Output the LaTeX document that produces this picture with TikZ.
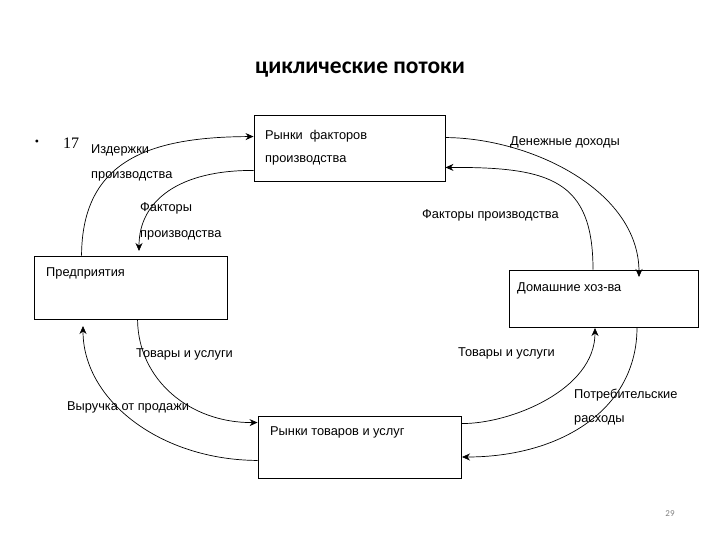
\documentclass[tikz,border=0pt]{standalone}
\usepackage{fontspec}
\setmainfont{Liberation Sans}
\newfontfamily\titlefont{Carlito}
\newfontfamily\seriffont{Liberation Serif}
\usetikzlibrary{arrows.meta}
\begin{document}
\begin{tikzpicture}[x=1pt,y=-1pt,
  box/.style={draw,line width=0.9pt,inner sep=0pt},
  txt/.style={anchor=west,inner sep=0pt,font=\fontsize{12.8}{14}\selectfont},
  flow/.style={line width=0.7pt,-{Stealth[length=8pt,width=7pt]}}]
\useasboundingbox (0,0) rectangle (720,540);
% title
\node[inner sep=0pt,font=\titlefont\bfseries\fontsize{23.5}{26}\selectfont] (title) at (360,70) {циклические потоки};
\node[inner sep=0pt,font=\seriffont\fontsize{12}{14}\selectfont] (bul) at (37,143) {•};
\node[anchor=west,inner sep=0pt,font=\seriffont\fontsize{16}{18}\selectfont] (num) at (63,143) {17};
% boxes
\node[box,minimum width=191pt,minimum height=66pt] (rf) at (349.5,148) {};
\node[box,minimum width=193pt,minimum height=63pt] (pred) at (130.5,287.5) {};
\node[box,minimum width=189pt,minimum height=57pt] (dom) at (603.5,298.5) {};
\node[box,minimum width=203pt,minimum height=62pt] (rt) at (359.5,447) {};
% box texts
\node[txt] (rf1) at (265,136) {Рынки\ \ факторов};
\node[txt] (rf2) at (265,160) {производства};
\node[txt] (predt) at (46,273) {Предприятия};
\node[txt] (domt) at (517,288) {Домашние хоз-ва};
\node[txt] (rtt) at (270,432) {Рынки товаров и услуг};
% coordinates on boxes
\coordinate (a1s) at ([xshift=48pt]pred.north west);
\coordinate (a1e) at ([yshift=-22pt]rf.north west);
\coordinate (a2s) at ([yshift=11pt]rf.south west);
\coordinate (a2e) at (139,251);
\coordinate (a3s) at ([yshift=-23pt]rf.north east);
\coordinate (a3e) at (639,277);
\coordinate (a4s) at ([xshift=-10.5pt]dom.north);
\coordinate (a4e) at ([yshift=14pt]rf.south east);
\coordinate (a5s) at ([xshift=104pt]pred.south west);
\coordinate (a5e) at ([yshift=-7pt]rt.north west);
\coordinate (a6s) at ([yshift=18pt]rt.south west);
\coordinate (a6e) at (83,326);
\coordinate (a7s) at ([yshift=-8pt]rt.north east);
\coordinate (a7e) at (595,328);
\coordinate (a8s) at ([xshift=33.5pt]dom.south);
\coordinate (a8e) at (462,457);
% flows
\draw[flow] (a1s) .. controls (82,160) and (150,137) .. (a1e);
\draw[flow] (a2s) .. controls (180,170) and (139,200) .. (a2e);
\draw[flow] (a3s) .. controls (530,138) and (639,190) .. (a3e);
\draw[flow] (a4s) .. controls (593,180) and (550,167) .. (a4e);
\draw[flow] (a5s) .. controls (138,380) and (190,423) .. (a5e);
\draw[flow] (a6s) .. controls (160,460) and (83,400) .. (a6e);
\draw[flow] (a7s) .. controls (510,424) and (595,390) .. (a7e);
\draw[flow] (a8s) .. controls (637,410) and (560,457) .. (a8e);
% labels
\node[txt] (l1a) at (91,150) {Издержки};
\node[txt] (l1b) at (91,176) {производства};
\node[txt] (l2a) at (140,208) {Факторы};
\node[txt] (l2b) at (140,235) {производства};
\node[txt] (l3) at (510,142) {Денежные доходы};
\node[txt] (l4) at (422,215) {Факторы производства};
\node[txt] (l5) at (136,354) {Товары и услуги};
\node[txt] (l6) at (67,407) {Выручка от продажи};
\node[txt] (l7) at (458,353) {Товары и услуги};
\node[txt] (l8a) at (574,395) {Потребительские};
\node[txt] (l8b) at (574,420) {расходы};
\node[inner sep=0pt,text=gray,font=\titlefont\fontsize{9}{10}\selectfont] (pg) at (670,514) {29};
\end{tikzpicture}
\end{document}
